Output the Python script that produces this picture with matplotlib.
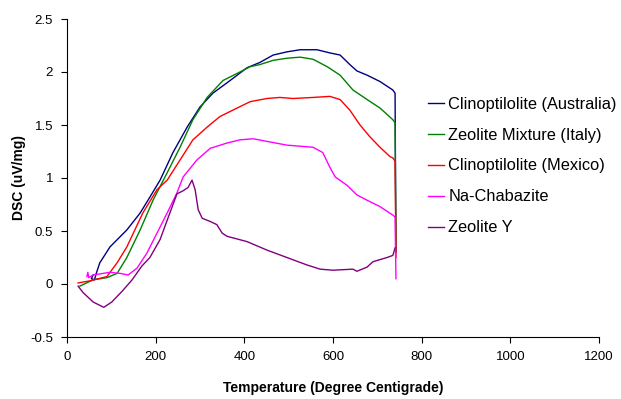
import matplotlib
matplotlib.use('Agg')
import matplotlib.pyplot as plt

# Lecturas aproximadas de la figura (Temperatura en C, DSC en uV/mg)
t_aus = [59, 55, 62, 66, 74, 97, 135, 165, 187, 210, 239, 271, 300, 329, 368, 406, 435,
         465, 496, 526, 564, 593, 616, 638, 654, 677, 706, 735, 740, 742]
d_aus = [0.085, 0.05, 0.04, 0.10, 0.20, 0.35, 0.51, 0.67, 0.82, 0.98, 1.24, 1.48, 1.67,
         1.80, 1.92, 2.04, 2.09, 2.16, 2.19, 2.21, 2.21, 2.18, 2.16, 2.07, 2.01, 1.97,
         1.91, 1.83, 1.80, 0.30]

t_ita = [29, 59, 90, 113, 135, 165, 194, 226, 255, 284, 316, 352, 390, 413, 435, 465,
         496, 526, 555, 587, 616, 645, 677, 706, 735, 740, 742]
d_ita = [-0.02, 0.04, 0.06, 0.10, 0.25, 0.51, 0.79, 1.05, 1.29, 1.55, 1.76, 1.92, 2.00,
         2.05, 2.07, 2.11, 2.13, 2.14, 2.12, 2.05, 1.97, 1.83, 1.74, 1.66, 1.55, 1.52, 0.33]

t_mex = [25, 52, 90, 113, 135, 171, 203, 226, 255, 284, 316, 345, 374, 413, 451, 480,
         510, 555, 593, 616, 638, 661, 683, 706, 729, 735, 740, 742]
d_mex = [0.01, 0.03, 0.07, 0.20, 0.35, 0.67, 0.89, 0.98, 1.17, 1.36, 1.48, 1.58, 1.64,
         1.72, 1.75, 1.76, 1.75, 1.76, 1.77, 1.74, 1.64, 1.50, 1.39, 1.29, 1.20, 1.19,
         1.16, 0.25]

t_cha = [45, 47, 49, 59, 81, 97, 120, 138, 158, 180, 203, 226, 248, 262, 293, 323, 361,
         390, 420, 458, 496, 526, 555, 577, 593, 605, 632, 654, 677, 706, 735, 740, 742]
d_cha = [0.07, 0.11, 0.06, 0.085, 0.10, 0.11, 0.10, 0.085, 0.15, 0.29, 0.48, 0.67, 0.86,
         1.01, 1.17, 1.28, 1.33, 1.36, 1.37, 1.34, 1.31, 1.30, 1.29, 1.24, 1.10, 1.01,
         0.93, 0.84, 0.79, 0.73, 0.65, 0.63, 0.05]

t_y = [25, 36, 59, 83, 101, 124, 147, 169, 187, 210, 232, 248, 262, 273, 282, 289, 296,
       305, 323, 338, 350, 361, 406, 451, 496, 541, 571, 600, 645, 654, 677, 690, 722,
       735, 740]
d_y = [-0.02, -0.08, -0.17, -0.22, -0.17, -0.07, 0.04, 0.17, 0.25, 0.42, 0.67, 0.85,
       0.88, 0.91, 0.98, 0.89, 0.70, 0.62, 0.59, 0.56, 0.48, 0.45, 0.40, 0.32, 0.25,
       0.18, 0.14, 0.13, 0.14, 0.12, 0.16, 0.21, 0.25, 0.27, 0.34]

series = [
    (t_aus, d_aus, '#000080', 'Clinoptilolite (Australia)'),
    (t_ita, d_ita, '#008000', 'Zeolite Mixture (Italy)'),
    (t_mex, d_mex, '#FF0000', 'Clinoptilolite (Mexico)'),
    (t_cha, d_cha, '#FF00FF', 'Na-Chabazite'),
    (t_y, d_y, '#800080', 'Zeolite Y'),
]

plt.rcParams['font.family'] = ['Liberation Sans', 'DejaVu Sans']

fig = plt.figure(figsize=(6.21, 3.99), dpi=100)
ax = fig.add_axes([67 / 621, 1 - 337 / 399, 532 / 621, 318 / 399])

for t, d, c, lab in series:
    ax.plot(t, d, color=c, lw=1.0, label=lab)

ax.set_xlim(0, 1200)
ax.set_ylim(-0.5, 2.5)
ax.set_xticks(range(0, 1201, 200))
ax.set_yticks([-0.5, 0, 0.5, 1, 1.5, 2, 2.5])
ax.set_yticklabels(['-0.5', '0', '0.5', '1', '1.5', '2', '2.5'])
ax.spines['top'].set_visible(False)
ax.spines['right'].set_visible(False)
ax.tick_params(direction='out', length=4, width=0.8, labelsize=9.5, pad=6)
ax.set_xlabel('Temperature (Degree Centigrade)', fontweight='bold', fontsize=10, labelpad=13)
ax.set_ylabel('DSC (uV/mg)', fontweight='bold', fontsize=10, labelpad=3)

fig.legend(loc='center left', bbox_to_anchor=(428 / 621, 1 - 166 / 399), frameon=False,
           fontsize=11.8, handlelength=0.95, handletextpad=0.3, labelspacing=0.97,
           borderpad=0, borderaxespad=0)

fig.savefig('out.png', dpi=100)
plt.close(fig)
